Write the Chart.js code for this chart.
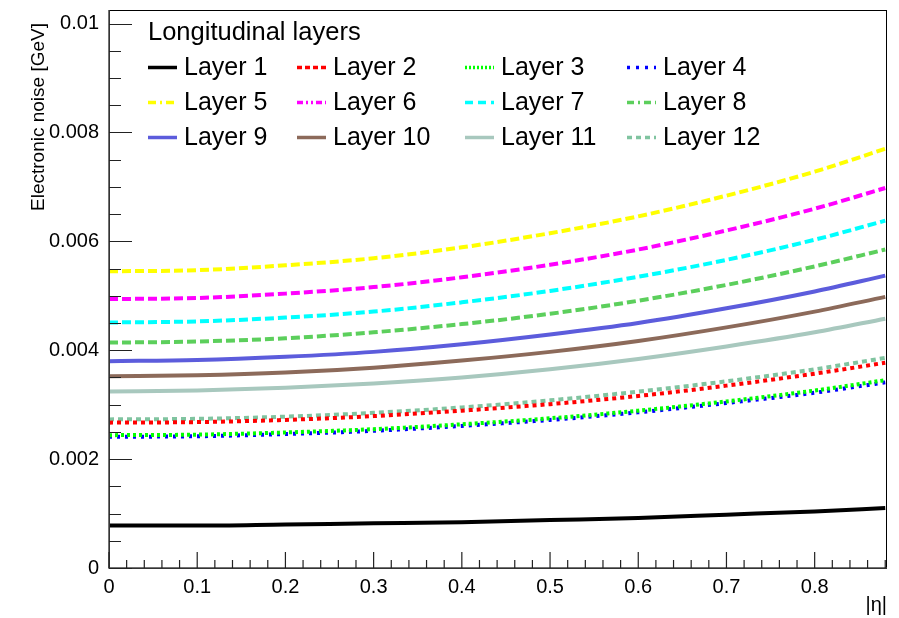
<!DOCTYPE html>
<html>
<head>
<meta charset="utf-8">
<script src="https://cdn.jsdelivr.net/npm/chart.js@4.4.1/dist/chart.umd.min.js"></script>
<style>
    html, body { margin: 0; padding: 0; background: #fff; }
    #wrap { width: 899px; height: 618px; position: relative; }
</style>
</head>
<body>
<div id="wrap"><canvas id="noiseChart"></canvas></div>
<script>
// 数据 (|η| 取样点, 单位 GeV)
const etaValues = [0, 0.1, 0.2, 0.3, 0.4, 0.5, 0.6, 0.7, 0.8, 0.88];

const layer1  = [0.00078, 0.00078, 0.00080, 0.00082, 0.00084, 0.00088, 0.00092, 0.00098, 0.00104, 0.00110];
const layer2  = [0.00267, 0.00268, 0.00272, 0.00279, 0.00289, 0.00301, 0.00316, 0.00335, 0.00357, 0.00377];
const layer3  = [0.00244, 0.00245, 0.00249, 0.00255, 0.00264, 0.00275, 0.00289, 0.00306, 0.00326, 0.00345];
const layer4  = [0.00241, 0.00242, 0.00246, 0.00252, 0.00261, 0.00272, 0.00286, 0.00303, 0.00322, 0.00341];
const layer5  = [0.00545, 0.00547, 0.00556, 0.00569, 0.00589, 0.00615, 0.00646, 0.00684, 0.00728, 0.00770];
const layer6  = [0.00494, 0.00496, 0.00504, 0.00516, 0.00534, 0.00557, 0.00585, 0.00620, 0.00660, 0.00698];
const layer7  = [0.00451, 0.00453, 0.00460, 0.00471, 0.00488, 0.00509, 0.00535, 0.00566, 0.00603, 0.00638];
const layer8  = [0.00414, 0.00416, 0.00422, 0.00433, 0.00448, 0.00467, 0.00491, 0.00520, 0.00554, 0.00585];
const layer9  = [0.00380, 0.00382, 0.00388, 0.00397, 0.00411, 0.00429, 0.00450, 0.00477, 0.00508, 0.00537];
const layer10 = [0.00352, 0.00354, 0.00359, 0.00368, 0.00381, 0.00397, 0.00417, 0.00442, 0.00471, 0.00498];
const layer11 = [0.00324, 0.00326, 0.00331, 0.00339, 0.00350, 0.00365, 0.00384, 0.00407, 0.00433, 0.00458];
const layer12 = [0.00273, 0.00274, 0.00278, 0.00285, 0.00295, 0.00308, 0.00324, 0.00343, 0.00365, 0.00386];

const layerNames = ['Layer 1', 'Layer 2', 'Layer 3', 'Layer 4', 'Layer 5', 'Layer 6',
                    'Layer 7', 'Layer 8', 'Layer 9', 'Layer 10', 'Layer 11', 'Layer 12'];
const layerNoise = [layer1, layer2, layer3, layer4, layer5, layer6,
                    layer7, layer8, layer9, layer10, layer11, layer12];

// 坐标轴刻度
const xTickStep = 0.1;
const yTickStep = 0.002;

// 线条样式 (ROOT 风格)
const lineColors = ['#000000', '#ff0000', '#00ff00', '#0000ff', '#ffff00', '#ff00ff',
                    '#00ffff', '#5ccf5c', '#5c5cdc', '#8c6a5a', '#a8c8be', '#80c4a0'];
const plotDash = [[], [4, 4], [3, 3], [3, 5], [9, 4], [9, 4],
                  [9, 4], [9, 4], [], [], [], [5, 4]];
const legendDash = [[], [5, 3], [2, 2], [3, 6], [8, 4, 2, 4], [6, 3, 2, 3, 2, 3],
                    [8, 5], [7, 4, 2, 4], [], [], [], [5, 4]];

const fontFamily = "'Liberation Sans', Arial, Helvetica, sans-serif";

const datasets = layerNames.map((name, i) => ({
    label: name,
    data: etaValues.map((eta, j) => ({ x: eta, y: layerNoise[i][j] })),
    borderColor: lineColors[i],
    backgroundColor: lineColors[i],
    borderDash: plotDash[i],
    legendDash: legendDash[i],
    borderWidth: 4,
    pointRadius: 0,
    fill: false,
    cubicInterpolationMode: 'monotone'
}));

// 边框和内侧刻度线
const rootFrame = {
    id: 'rootFrame',
    afterDatasetsDraw(chart) {
        const { ctx, chartArea: a, scales } = chart;
        const x = scales.x, y = scales.y;
        ctx.save();
        ctx.setLineDash([]);
        ctx.strokeStyle = '#000';
        ctx.lineWidth = 1;
        ctx.strokeRect(a.left + 0.5, a.top + 0.5, a.right - a.left - 1, a.bottom - a.top);
        ctx.strokeStyle = '#444';
        ctx.lineWidth = 1.5;
        ctx.beginPath();
        ctx.moveTo(a.left, a.top);
        ctx.lineTo(a.left, a.bottom);
        ctx.lineTo(a.right, a.bottom);
        ctx.stroke();

        ctx.lineWidth = 1.2;
        ctx.strokeStyle = '#222';
        ctx.beginPath();
        for (let i = 0; i * 0.02 <= x.max + 1e-9; i++) {
            const px = x.getPixelForValue(i * 0.02);
            const len = i % 5 === 0 ? 16 : 8;
            ctx.moveTo(px, a.bottom);
            ctx.lineTo(px, a.bottom - len);
        }
        for (let i = 0; i * 0.0005 <= y.max + 1e-9; i++) {
            const py = Math.round(y.getPixelForValue(i * 0.0005)) + 0.5;
            const len = i % 4 === 0 ? 23 : 12;
            ctx.moveTo(a.left, py);
            ctx.lineTo(a.left + len, py);
        }
        ctx.stroke();
        ctx.restore();
    }
};

// 图例 (四列) 和坐标轴标题
const rootLegend = {
    id: 'rootLegend',
    afterDraw(chart) {
        const ctx = chart.ctx;
        const colX = [148, 297, 465, 627];
        const rowY = [67.5, 102.5, 137.5];
        ctx.save();
        ctx.fillStyle = '#000';
        ctx.font = '25.5px ' + fontFamily;
        ctx.textAlign = 'left';
        ctx.textBaseline = 'alphabetic';
        ctx.fillText('Longitudinal layers', 148, 40);

        ctx.font = '25px ' + fontFamily;
        chart.data.datasets.forEach((ds, i) => {
            const cx = colX[i % 4];
            const cy = rowY[Math.floor(i / 4)];
            ctx.strokeStyle = ds.borderColor;
            ctx.lineWidth = 3.5;
            ctx.setLineDash(ds.legendDash);
            ctx.beginPath();
            ctx.moveTo(cx, cy);
            ctx.lineTo(cx + 29, cy);
            ctx.stroke();
            ctx.setLineDash([]);
            ctx.fillText(ds.label, cx + 36, cy + 7);
        });

        // y 轴标题
        ctx.font = '19px ' + fontFamily;
        ctx.save();
        ctx.translate(44, 23);
        ctx.rotate(-Math.PI / 2);
        ctx.textAlign = 'right';
        ctx.fillText('Electronic noise [GeV]', 0, 0);
        ctx.restore();

        // x 轴标题
        ctx.font = '20px ' + fontFamily;
        ctx.textAlign = 'right';
        ctx.fillText('|η|', 887, 611);
        ctx.restore();
    }
};

function formatTick(value) {
    return String(+value.toFixed(4));
}

document.addEventListener('DOMContentLoaded', function() {
    const ctx = document.getElementById('noiseChart').getContext('2d');
    new Chart(ctx, {
        type: 'line',
        data: { datasets: datasets },
        options: {
            responsive: true,
            maintainAspectRatio: false,
            animation: false,
            devicePixelRatio: 1,
            layout: { padding: { left: 0, top: 10, right: 12, bottom: 0 } },
            plugins: {
                legend: { display: false },
                tooltip: { enabled: false }
            },
            scales: {
                x: {
                    type: 'linear',
                    min: 0,
                    max: 0.882,
                    grid: { display: false, drawTicks: false },
                    border: { display: false },
                    afterFit: function(scale) {
                        scale.height = 50;
                        scale.paddingLeft = 0;
                        scale.paddingRight = 0;
                    },
                    ticks: {
                        stepSize: xTickStep,
                        includeBounds: false,
                        autoSkip: false,
                        maxRotation: 0,
                        padding: 7,
                        color: '#000',
                        font: { family: fontFamily, size: 20 },
                        callback: formatTick
                    }
                },
                y: {
                    type: 'linear',
                    min: 0,
                    max: 0.01025,
                    grid: { display: false, drawTicks: false },
                    border: { display: false },
                    afterFit: function(scale) {
                        scale.width = 109;
                        scale.paddingTop = 0;
                        scale.paddingBottom = 0;
                    },
                    ticks: {
                        stepSize: yTickStep,
                        includeBounds: false,
                        autoSkip: false,
                        padding: 10,
                        color: '#000',
                        font: { family: fontFamily, size: 20 },
                        callback: formatTick
                    }
                }
            }
        },
        plugins: [rootFrame, rootLegend]
    });
});
</script>
</body>
</html>
